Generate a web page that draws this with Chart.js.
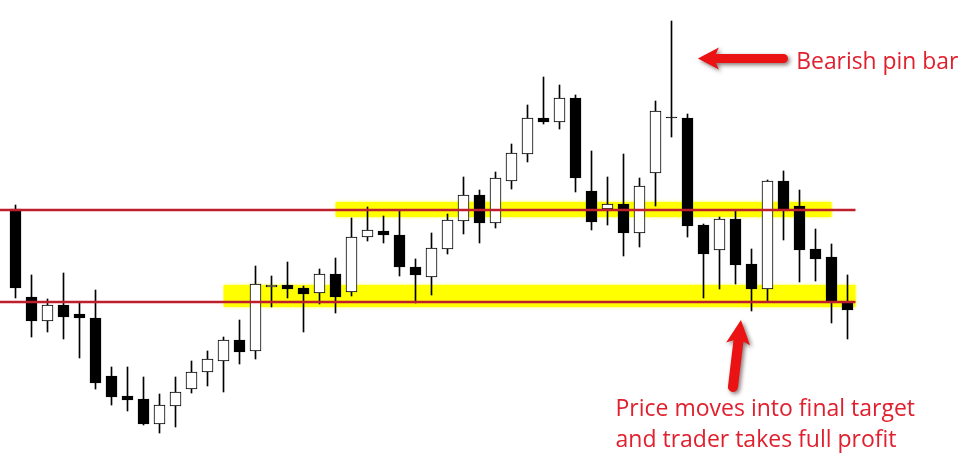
<!DOCTYPE html>
<html>
<head>
<meta charset="utf-8">
<script src="https://cdn.jsdelivr.net/npm/chart.js@4.4.1/dist/chart.umd.min.js"></script>
<style>
html,body{margin:0;padding:0;background:#fff}
#wrap{width:974px;height:456px}
</style>
</head>
<body>
<div id="wrap"><canvas id="c" width="974" height="456"></canvas></div>
<script>
// candle prices, one entry per bar, left to right
const open =[247,159,135,151,142,138,80,60,57,32,50,67,84,95,116,105,169,171,168,163,182,164,219,225,221,189,179,207,235,261,233,275,302,338,334,358,265,247,252,223,283,339,338,231,206,237,192,167,275,250,207,199,153];
const high =[251,181,157,183,153,166,89,89,79,62,79,95,105,119,136,190,180,194,170,187,198,238,249,240,245,197,223,242,279,266,284,312,351,379,371,361,305,279,302,278,355,435,342,232,239,245,207,276,285,266,227,212,181];
const low  =[158,119,124,117,98,67,51,45,31,23,29,63,70,64,92,97,149,158,124,152,143,160,215,213,180,153,161,202,222,213,228,267,294,332,327,264,226,231,200,209,250,319,219,158,167,172,145,155,216,174,175,133,117];
const close=[168,135,151,139,138,73,59,56,32,51,64,84,97,116,104,172,171,167,162,182,159,219,226,221,189,181,208,236,261,233,278,303,338,334,358,278,234,252,223,270,345,338,230,202,237,191,167,275,247,206,197,155,146];

// support / resistance levels and the zones around them
const levels=[246,154];
const levelEnd=52.5;
const zones=[{from:20,to:51,lo:239,hi:254},{from:13,to:52.5,lo:149,hi:171}];

// annotations, in bar index / price units
const notes=[
  {lines:['Bearish pin bar'],x:48.8,y:387,maxW:162},
  {lines:['Price moves into final target','and trader takes full profit'],x:37.5,y:40,step:31,maxW:304}
];
const arrows=[
  {from:[48.0,397.5],to:[42.65,397.5],w:9,hl:18,hw:22},
  {from:[44.84,69],to:[45.34,136],w:10,hl:21,hw:24}
];

const idx=open.map((o,i)=>i);
const bodies=idx.map(i=>({x:i,y:[open[i],close[i]]}));
const wicks=idx.map(i=>({x:i,y:[low[i],high[i]]}));

function drawArrow(ctx,x1,y1,x2,y2,w,hl,hw){
  const dx=x2-x1,dy=y2-y1,len=Math.hypot(dx,dy),ux=dx/len,uy=dy/len,nx=-uy,ny=ux;
  const bx=x2-ux*hl,by=y2-uy*hl;
  ctx.beginPath();
  ctx.moveTo(x1+nx*w/2,y1+ny*w/2);
  ctx.lineTo(bx+nx*w/2,by+ny*w/2);
  ctx.lineTo(bx+nx*hw/2-ux*3,by+ny*hw/2-uy*3);
  ctx.lineTo(x2,y2);
  ctx.lineTo(bx-nx*hw/2-ux*3,by-ny*hw/2-uy*3);
  ctx.lineTo(bx-nx*w/2,by-ny*w/2);
  ctx.lineTo(x1-nx*w/2,y1-ny*w/2);
  ctx.arc(x1,y1,w/2,Math.atan2(-ny,-nx),Math.atan2(ny,nx),true);
  ctx.closePath();
  ctx.fill();
}

const markup={
  id:'markup',
  beforeDatasetsDraw(ch){
    const ctx=ch.ctx,sx=ch.scales.x,sy=ch.scales.y;
    ctx.save();
    ctx.fillStyle='#ffff00';
    ctx.shadowColor='rgba(255,255,0,0.8)';ctx.shadowBlur=3;
    zones.forEach(z=>{
      const x0=sx.getPixelForValue(z.from),x1=sx.getPixelForValue(z.to);
      const y0=sy.getPixelForValue(z.hi),y1=sy.getPixelForValue(z.lo);
      ctx.fillRect(x0,y0,x1-x0,y1-y0);
    });
    ctx.restore();
  },
  afterDatasetsDraw(ch){
    const ctx=ch.ctx,sx=ch.scales.x,sy=ch.scales.y;
    ctx.save();
    ctx.strokeStyle='#bf1e2d';ctx.lineWidth=2.4;
    levels.forEach(v=>{
      const y=sy.getPixelForValue(v);
      ctx.beginPath();ctx.moveTo(ch.chartArea.left,y);ctx.lineTo(sx.getPixelForValue(levelEnd),y);ctx.stroke();
    });
    ctx.fillStyle='#ea1212';
    ctx.shadowColor='rgba(40,0,0,0.55)';ctx.shadowBlur=4;ctx.shadowOffsetX=2;ctx.shadowOffsetY=2;
    arrows.forEach(a=>drawArrow(ctx,sx.getPixelForValue(a.from[0]),sy.getPixelForValue(a.from[1]),
      sx.getPixelForValue(a.to[0]),sy.getPixelForValue(a.to[1]),a.w,a.hl,a.hw));
    ctx.shadowColor='transparent';
    ctx.fillStyle='#e0202e';
    ctx.font='23px "Open Sans"';
    ctx.textBaseline='alphabetic';
    notes.forEach(n=>{
      n.lines.forEach((t,k)=>{
        ctx.fillText(t,sx.getPixelForValue(n.x),sy.getPixelForValue(n.y)+k*(n.step||0),n.maxW);
      });
    });
    ctx.restore();
  }
};

new Chart(document.getElementById('c'),{
  type:'bar',
  data:{datasets:[
    {label:'Body',data:bodies,order:0,grouped:false,barThickness:11,
     backgroundColor:c=>close[c.dataIndex]>=open[c.dataIndex]?'#ffffff':'#000000',
     borderColor:'#000000',borderWidth:1,borderSkipped:false},
    {label:'Wick',data:wicks,order:1,grouped:false,barThickness:1,
     backgroundColor:'#000000',borderWidth:0}
  ]},
  options:{
    responsive:false,animation:false,
    layout:{padding:0},
    plugins:{legend:{display:false},tooltip:{enabled:false},title:{display:false}},
    scales:{
      x:{type:'linear',display:false,offset:false,min:-15.5/16,max:(974-15.5)/16},
      y:{type:'linear',display:false,min:0,max:456}
    }
  },
  plugins:[markup]
});
</script>
</body>
</html>
